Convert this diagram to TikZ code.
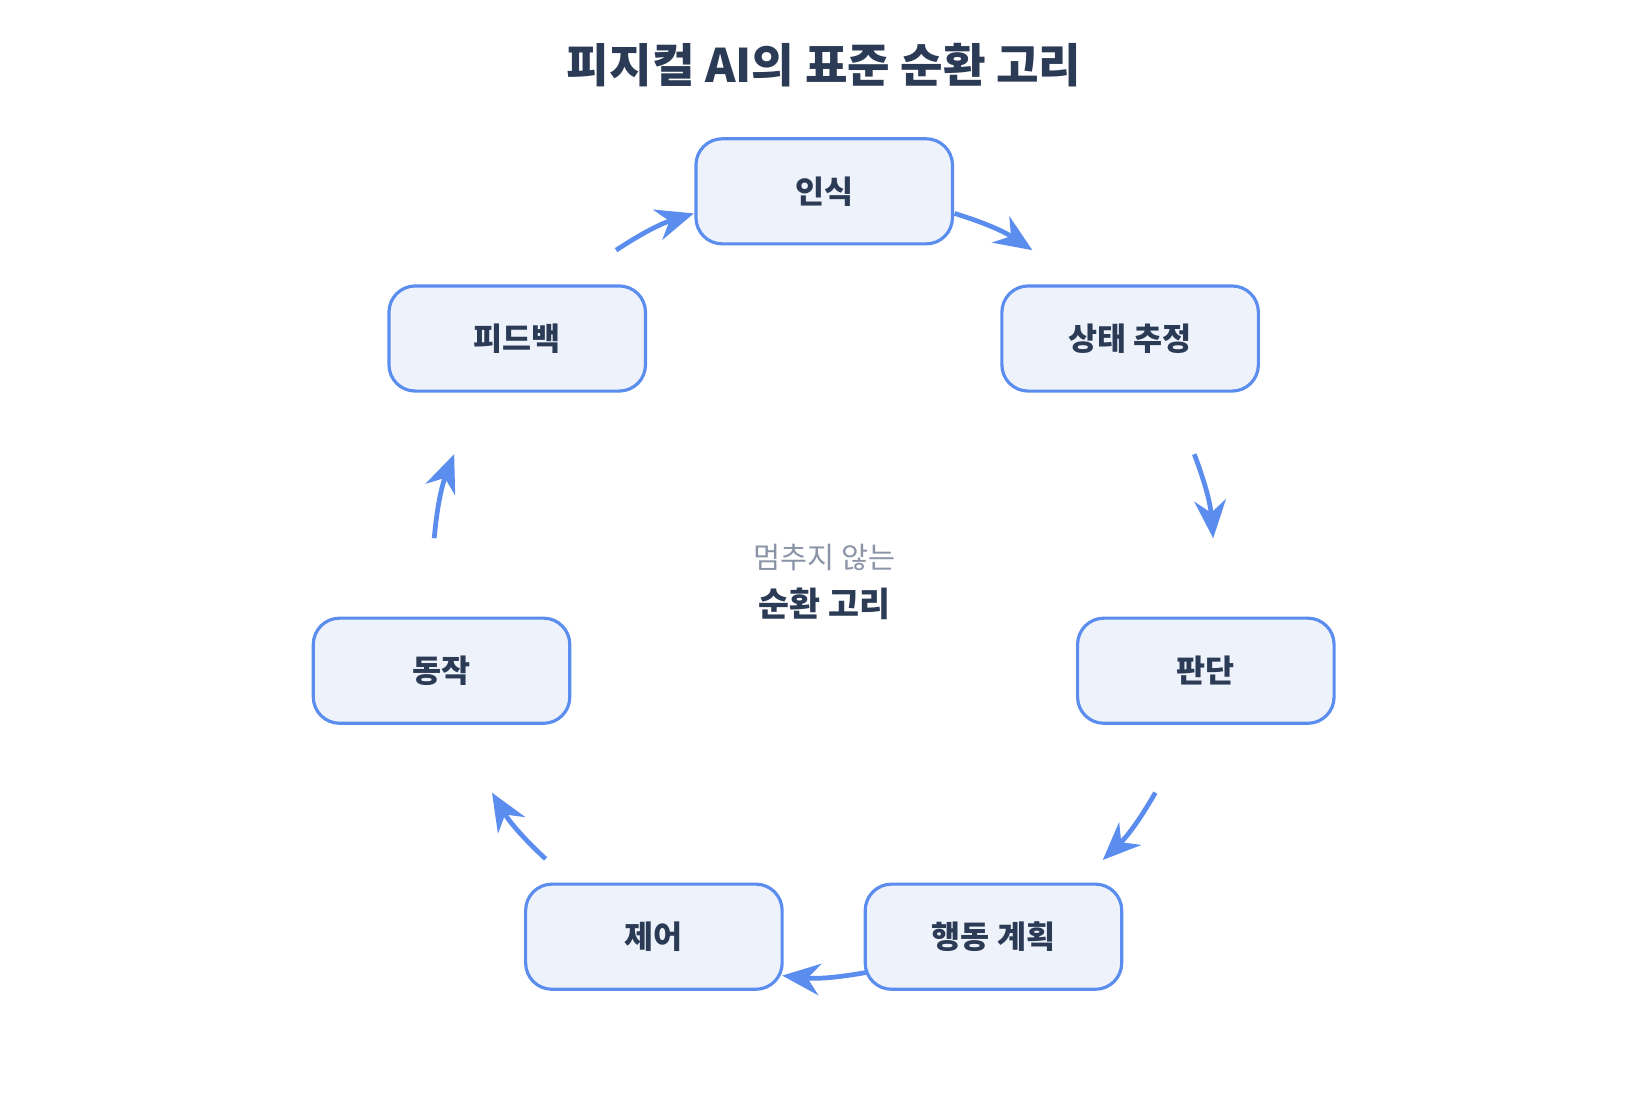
\documentclass[tikz,border=0pt]{standalone}
\usepackage{fontspec}
\setmainfont{Noto Sans CJK KR}
\newfontfamily\krb{Noto Sans CJK KR Bold}
\usetikzlibrary{arrows.meta}
\definecolor{bfill}{HTML}{EEF3FB}
\definecolor{bline}{HTML}{5B8DEF}
\definecolor{tcol}{HTML}{2B3A55}
\definecolor{gcol}{HTML}{8A94A6}
\begin{document}
\begin{tikzpicture}[x=1pt,y=-1pt,
  stepbox/.style={draw=bline,fill=bfill,line width=3pt,rounded corners=25pt,minimum width=244pt,minimum height=100pt,inner sep=0pt,text=tcol,font=\fontsize{30}{36}\selectfont\bfseries},
  flow/.style={draw=bline,line width=4.5pt,-{Stealth[length=36pt,width=30pt]}}]
\useasboundingbox (0,0) rectangle (1560,1065);
\node[text=tcol,font=\fontsize{44}{52}\selectfont\bfseries] (title) at (784,62) {피지컬 AI의 표준 순환 고리};
\node[stepbox] (a) at (784,182) {인식};
\node[stepbox] (b) at (1075,322) {상태 추정};
\node[stepbox] (c) at (1147,638) {판단};
\node[stepbox] (d) at (945,891) {행동 계획};
\node[stepbox] (e) at (622,891) {제어};
\node[stepbox] (f) at (420,638) {동작};
\node[stepbox] (g) at (492,322) {피드백};
\node[text=gcol,font=\fontsize{28}{32}\selectfont] (m1) at (784,530) {멈추지 않는};
\node[text=tcol,font=\fontsize{32}{38}\selectfont\bfseries] (m2) at (784,574) {순환 고리};
\coordinate (s1) at (586,238); \coordinate (t1) at (660,203);
\coordinate (s2) at (908,203); \coordinate (t2) at (982,238);
\coordinate (s3) at (1136,432); \coordinate (t3) at (1154,512);
\coordinate (s4) at (1099,754); \coordinate (t4) at (1049,818);
\coordinate (s5) at (824,925); \coordinate (t5) at (744,928);
\coordinate (s6) at (519,817); \coordinate (t6) at (468,754);
\coordinate (s7) at (413,512); \coordinate (t7) at (432,432);
\foreach \i in {1,...,7}{\draw[flow] (s\i) to[bend left=8] (t\i);}
\end{tikzpicture}
\end{document}
